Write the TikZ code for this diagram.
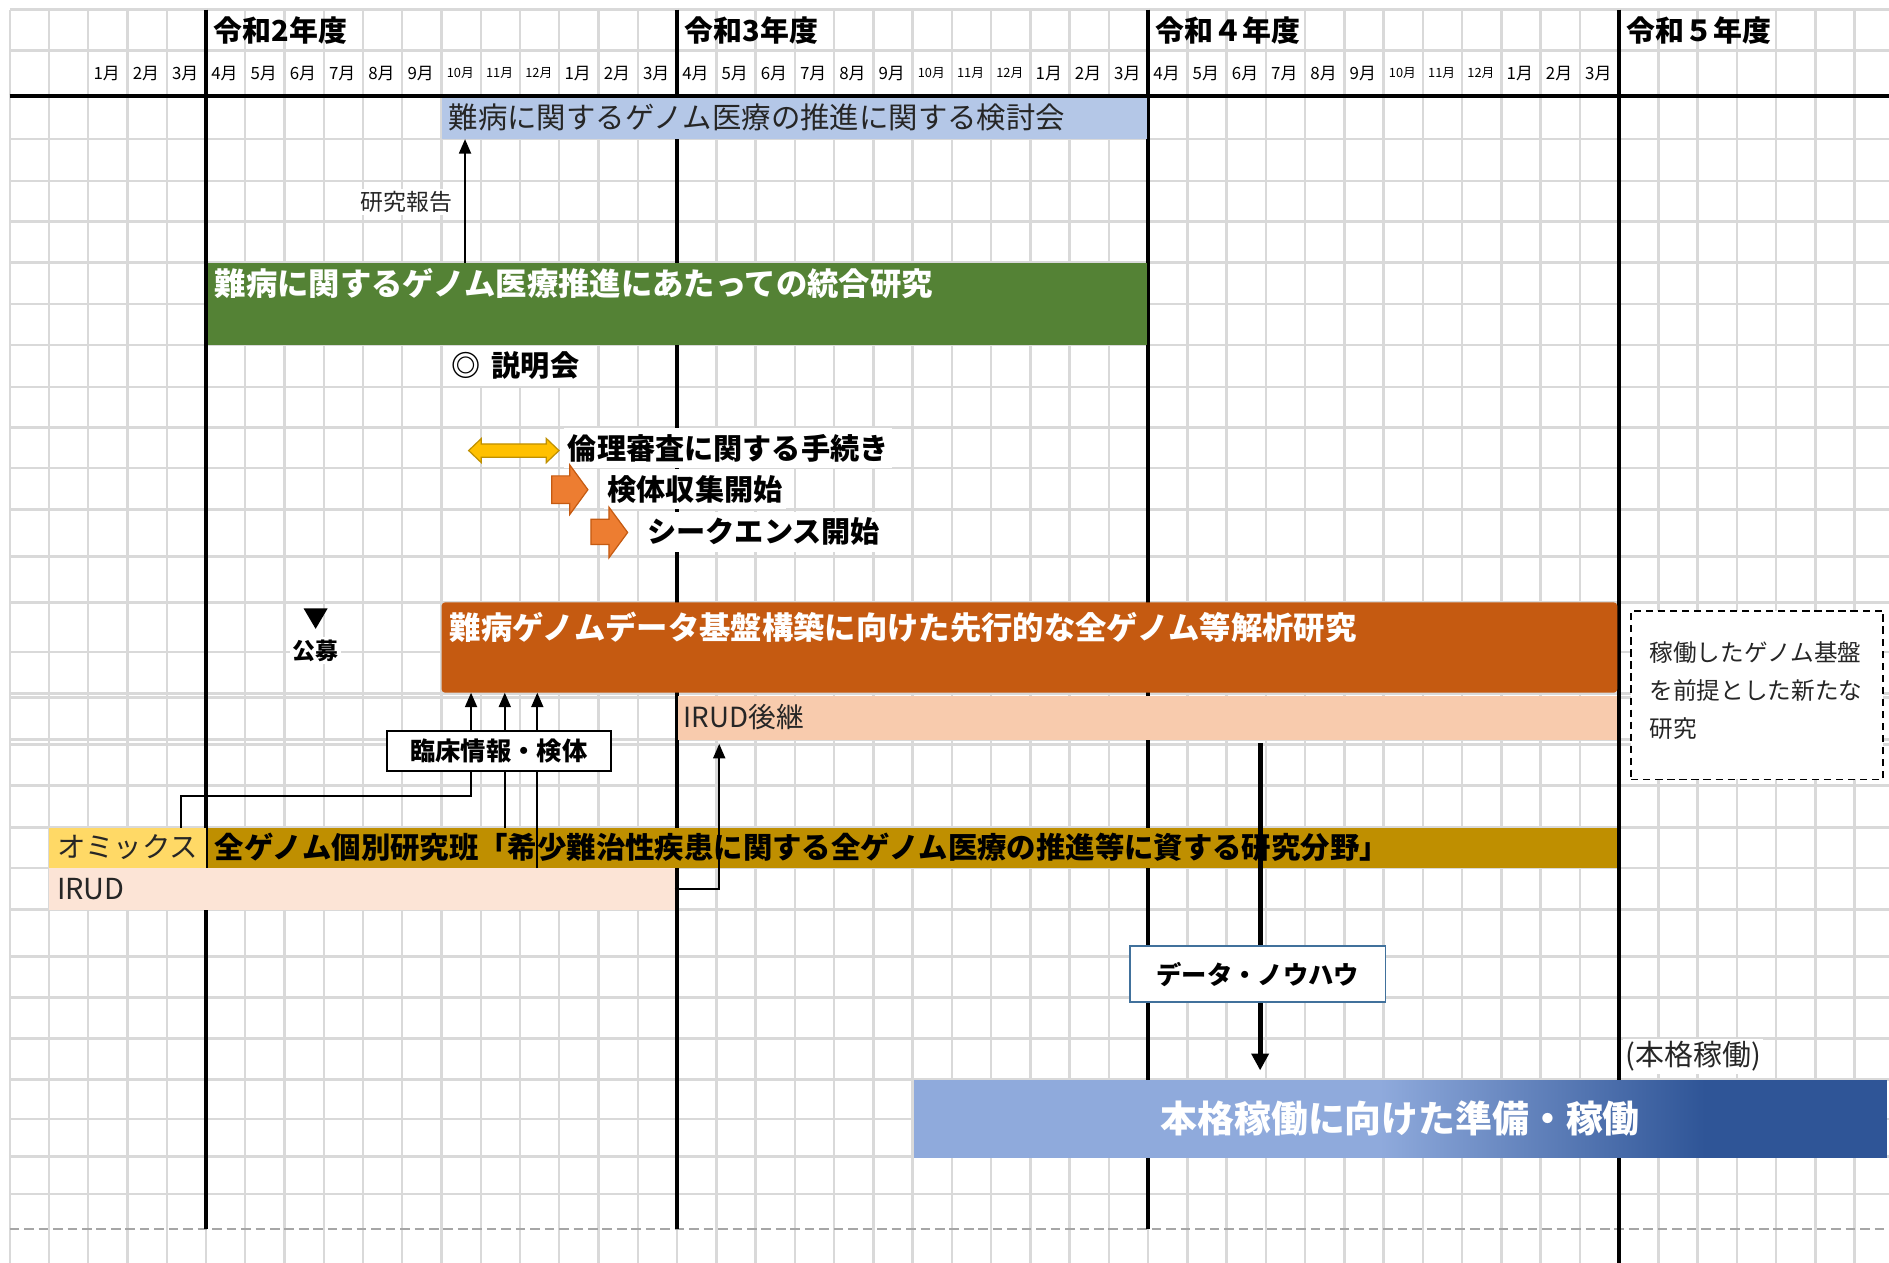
\documentclass[tikz,border=0pt]{standalone}
\usepackage{fontspec}
\setmainfont{Noto Sans CJK JP}
\usetikzlibrary{arrows.meta,fit,calc}
\definecolor{gridc}{HTML}{D9D9D9}
\definecolor{dashc}{HTML}{A6A6A6}
\definecolor{bluebar}{HTML}{B4C7E7}
\definecolor{greenbar}{HTML}{548235}
\definecolor{orangebar}{HTML}{C55A11}
\definecolor{peach}{HTML}{F8CBAD}
\definecolor{lightpeach}{HTML}{FCE4D6}
\definecolor{goldbar}{HTML}{BF8F00}
\definecolor{yelcell}{HTML}{FFD966}
\definecolor{txtc}{HTML}{262626}
\definecolor{arrowyel}{HTML}{FFC000}
\definecolor{arrowyelb}{HTML}{BF9000}
\definecolor{arroworange}{HTML}{ED7D31}
\definecolor{arroworangeb}{HTML}{C55A11}
\definecolor{boxblue}{HTML}{41719C}
\definecolor{lblue}{HTML}{8FAADC}
\definecolor{dblue}{HTML}{2F5597}
\tikzset{
  gridline/.style={draw=gridc,line width=1pt},
  dashline/.style={draw=dashc,line width=1pt,dash pattern=on 4pt off 2pt},
  yearline/.style={draw=black,line width=1.7pt},
  barfit/.style={inner sep=0pt,outer sep=0pt,draw=none},
  yearlbl/.style={inner sep=0pt,anchor=west,text=black,font=\bfseries\fontsize{12}{13}\selectfont},
  monthlbl/.style={inner sep=0pt,anchor=west,text=black,font=\fontsize{7}{8}\selectfont},
  txt/.style={inner sep=0pt,anchor=west,text=txtc,font=\fontsize{12}{14}\selectfont},
  wtxt/.style={inner sep=0pt,anchor=west,text=white,font=\bfseries\fontsize{13}{15}\selectfont},
  btxt/.style={inner xsep=1.5pt,inner ysep=2.5pt,anchor=west,fill=white,text=black,font=\bfseries\fontsize{12.1}{14}\selectfont},
  conn/.style={draw=black,line width=0.75pt},
  arr/.style={conn,-{Triangle[length=6pt,width=5pt]}},
  thickline/.style={draw=black,line width=2pt},
  thickarr/.style={thickline,-{Triangle[length=7pt,width=7pt]}},
  labelbox/.style={draw=black,fill=white,line width=0.75pt,inner sep=0pt,font=\bfseries\fontsize{10.5}{12}\selectfont},
}
\begin{document}
\begin{tikzpicture}[x=0.5pt,y=-0.5pt]
\useasboundingbox (0,0) rectangle (1568,1048);
\fill[white] (0,0) rectangle (1568,1048);
% grid
\foreach \k in {0,...,47} \draw[gridline] ({8.08+32.5833*\k},8) -- ({8.08+32.5833*\k},1048);
\foreach \yy in {8,42,115.5,150,184,218,252.5,286.5,321,355,388.5,423,462,500,541,575.5,579,614,618,652,687,720.5,755,794,828,862,896,929,960,991}
  \draw[gridline] (8.08,\yy) -- (1568,\yy);
\draw[dashline] (8.08,1020) -- (1568,1020);
\foreach \xx in {171,562,953} \draw[yearline] (\xx,8) -- (\xx,1020);
\draw[yearline] (1344,8) -- (1344,1048);
\draw[yearline] (8.08,80) -- (1568,80);
% header
\node[yearlbl] (y2) at (177,25) {令和2年度};
\node[yearlbl] (y3) at (568,25) {令和3年度};
\node[yearlbl] (y4) at (959,25) {令和４年度};
\node[yearlbl] (y5) at (1350,25) {令和５年度};
\foreach \m [count=\i from 2] in {1,2,3}
  \node[monthlbl] (m0-\i) at ({8.08+32.5833*\i+4},61) {\m 月};
\foreach \base in {171,562,953} {
  \foreach \m [count=\i from 0] in {4,5,6,7,8,9,10,11,12,1,2,3}
    \node[monthlbl] (m\base-\i) at ({\base+32.5833*\i+4},61) {\ifnum\m>9 \fontsize{5.3}{6}\selectfont\fi\m 月};
}
% bars
\node[barfit,fill=bluebar,fit={(366.5,81.5) (952,115.5)}] (kentou) {};
\node[barfit,fill=greenbar,fit={(172.5,218) (952,286.5)}] (togo) {};
\node[barfit,fill=orangebar,rounded corners=1.5pt,fit={(366.5,500) (1342.5,575)}] (genome) {};
\node[barfit,fill=peach,fit={(563,578) (1342.5,614)}] (irudnext) {};
\node[barfit,fill=yelcell,fit={(41,687) (171,720.5)}] (omics) {};
\node[barfit,fill=goldbar,fit={(172.5,687) (1342.5,720.5)}] (gold) {};
\node[barfit,fill=lightpeach,fit={(41,720.5) (560,755)}] (irud) {};
\fill[lblue] (758.5,896.5) rectangle (1146,961);
\shade[left color=lblue,right color=dblue] (1145.5,896.5) rectangle (1415,961);
\fill[dblue] (1414.5,896.5) rectangle (1566,961);
\node[barfit,fit={(758.5,896.5) (1566,961)}] (honkaku) {};
% bar texts
\node[txt,font=\fontsize{12.2}{14}\selectfont] (t-kentou) at (372,97.5) {難病に関するゲノム医療の推進に関する検討会};
\node[wtxt] (t-togo) at (178,235) {難病に関するゲノム医療推進にあたっての統合研究};
\node[wtxt] (t-genome) at (373,521) {難病ゲノムデータ基盤構築に向けた先行的な全ゲノム等解析研究};
\node[txt,font=\fontsize{11.5}{14}\selectfont] (t-irudnext) at (567,595.5) {IRUD後継};
\node[txt,font=\fontsize{11.8}{14}\selectfont] (t-omics) at (47,703.5) {オミックス};
\node[inner sep=0pt,anchor=west,text=black,font=\bfseries\fontsize{12.2}{14}\selectfont] (t-gold) at (178,703.5) {全ゲノム個別研究班「希少難治性疾患に関する全ゲノム医療の推進等に資する研究分野」};
\node[txt] (t-irud) at (47,738) {IRUD};
\node[inner sep=0pt,text=white,font=\bfseries\fontsize{15.3}{17}\selectfont] (t-honkaku) at (honkaku.center) {本格稼働に向けた準備・稼働};
% free texts
\node[fill=white,inner sep=1pt,text=txtc,font=\fontsize{9.5}{11}\selectfont] (report) at (337.5,168) {研究報告};
\node[btxt] (setsumei) at (371,303.5) {◎\hspace{0.4em}説明会};
\node[btxt] (rinri) at (468,372) {倫理審査に関する手続き};
\node[btxt] (kentai) at (501,406) {検体収集開始};
\node[btxt] (seq) at (534,441.5) {シークエンス開始};
\node[fill=white,inner sep=1pt,text=black,font=\bfseries\fontsize{9.5}{11}\selectfont] (koubo) at (262,540) {公募};
\node[fill=white,inner sep=1pt,anchor=west,text=txtc,font=\fontsize{12}{13}\selectfont] (honkakulbl) at (1347,877) {(本格稼働)};
% dashed box
\node[fit={(1354,507) (1563,647)},inner sep=0pt,draw=black,fill=white,line width=0.75pt,dash pattern=on 3pt off 2pt] (newres) {};
\node[anchor=north west,inner sep=0pt,align=left,text=txtc,font=\fontsize{9.8}{15.75}\selectfont] (t-newres) at (1369,532) {稼働したゲノム基盤\\を前提とした新たな\\研究};
% shapes
\filldraw[fill=arrowyel,draw=arrowyelb,line width=0.5pt] (389,374) -- (399.5,364) -- (399.5,368.5) -- (453.5,368.5) -- (453.5,364) -- (464,374) -- (453.5,384) -- (453.5,379.5) -- (399.5,379.5) -- (399.5,384) -- cycle;
\filldraw[fill=arroworange,draw=arroworangeb,line width=0.5pt] (458,395) -- (473,395) -- (473,386) -- (488,406.5) -- (473,427) -- (473,418) -- (458,418) -- cycle;
\filldraw[fill=arroworange,draw=arroworangeb,line width=0.5pt] (490.5,431) -- (505.5,431) -- (505.5,421) -- (521,442) -- (505.5,463) -- (505.5,452) -- (490.5,452) -- cycle;
\fill[black] (252,505) -- (272,505) -- (262,522) -- cycle;
% boxes
\node[labelbox,minimum width=93pt,minimum height=16.5pt] (rinsho) at (414,623.5) {臨床情報・検体};
\node[labelbox,draw=boxblue,minimum width=106pt,minimum height=23.5pt] (data) at (1044,808.5) {データ・ノウハウ};
% connectors
\coordinate (rp) at (386,0);
\draw[arr] (rp |- togo.north) -- (rp |- kentou.south);
\coordinate (c0) at (150,0);
\coordinate (cy) at (0,661);
\coordinate (c1) at (391,0);
\coordinate (c2) at (419,0);
\coordinate (c3) at (446,0);
\draw[conn] (c0 |- omics.north) -- (c0 |- cy) -- (c1 |- cy) -- (c1 |- rinsho.south);
\draw[arr] (c1 |- rinsho.north) -- (c1 |- genome.south);
\draw[conn] (c2 |- gold.north) -- (c2 |- rinsho.south);
\draw[arr] (c2 |- rinsho.north) -- (c2 |- genome.south);
\draw[conn] (c3 |- gold.south) -- (c3 |- rinsho.south);
\draw[arr] (c3 |- rinsho.north) -- (c3 |- genome.south);
\coordinate (c4) at (597,617.5);
\draw[arr] (irud.east) -| (c4);
\coordinate (c5) at (1046,617);
\draw[thickline] (c5) -- (c5 |- data.north);
\draw[thickarr] (c5 |- data.south) -- ($(c5 |- honkaku.north)+(0,-8)$);
\end{tikzpicture}
\end{document}
